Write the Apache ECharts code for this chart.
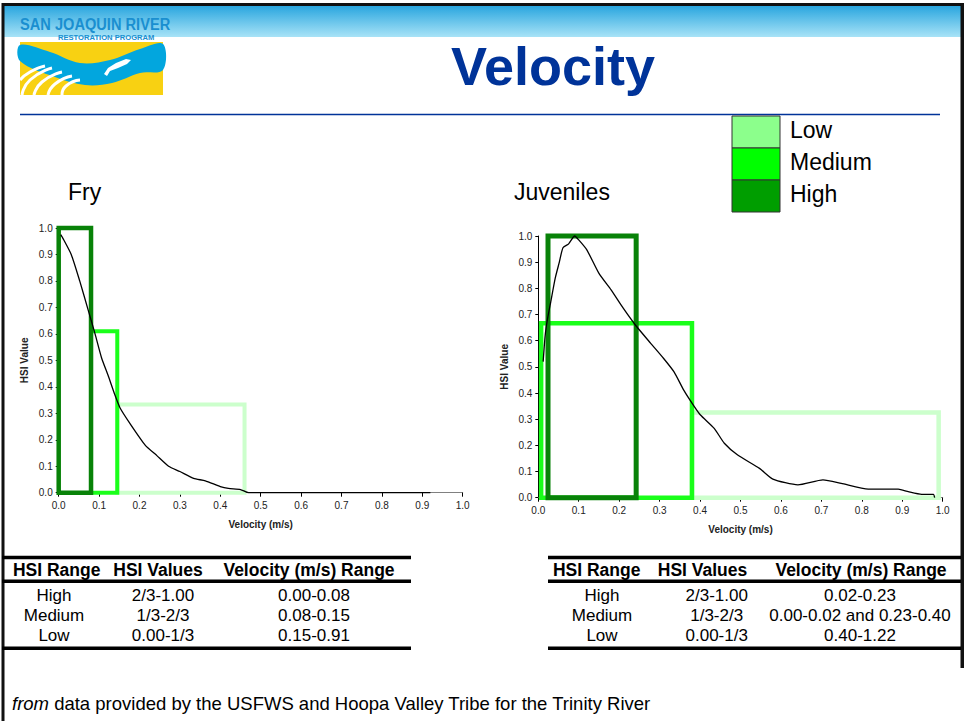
<!DOCTYPE html>
<html><head><meta charset="utf-8">
<script src="https://cdn.jsdelivr.net/npm/echarts/dist/echarts.min.js"></script>
<style>html,body{margin:0;padding:0;background:#fff}#c{width:964px;height:721px}</style>
</head><body><div id="c"></div>
<script>
// ---------- data ----------
const axisTicks = [0, 0.1, 0.2, 0.3, 0.4, 0.5, 0.6, 0.7, 0.8, 0.9, 1.0];

const fryVelocity = [0.005, 0.009, 0.031, 0.052, 0.073, 0.09, 0.106, 0.123, 0.139, 0.152, 0.177, 0.214, 0.243, 0.272, 0.30, 0.334, 0.363, 0.40, 0.42, 0.45, 0.47, 0.92];
const fryHSI      = [0.975, 0.965, 0.90, 0.80, 0.69, 0.60, 0.51, 0.44, 0.37, 0.32, 0.26, 0.18, 0.14, 0.10, 0.08, 0.054, 0.045, 0.023, 0.016, 0.012, 0.0, 0.0];

const juvVelocity = [0.012, 0.017, 0.023, 0.031, 0.042, 0.052, 0.061, 0.075, 0.09, 0.10, 0.12, 0.15, 0.18, 0.21, 0.24, 0.278, 0.31, 0.336, 0.36, 0.385, 0.401, 0.435, 0.46, 0.493, 0.547, 0.58, 0.642, 0.704, 0.749, 0.816, 0.89, 0.915, 0.948, 0.977, 0.98];
const juvHSI      = [0.52, 0.62, 0.685, 0.75, 0.84, 0.90, 0.955, 0.97, 1.0, 0.985, 0.947, 0.857, 0.794, 0.724, 0.66, 0.59, 0.532, 0.48, 0.41, 0.35, 0.316, 0.265, 0.208, 0.163, 0.112, 0.071, 0.049, 0.068, 0.055, 0.033, 0.033, 0.023, 0.013, 0.013, 0.0];

// HSI range boxes: [velocity from, velocity to, HSI top]
const fryHighBox   = [0.0, 0.08, 1.0];
const fryMediumBox = [0.08, 0.145, 0.61];
const fryLowBox    = [0.145, 0.46, 0.333];
const juvHighBox   = [0.024, 0.242, 1.0];
const juvMediumBox = [0.007, 0.38, 0.667];
const juvLowBox    = [0.38, 0.99, 0.326];

const legendNames = ['Low', 'Medium', 'High'];
const tableHeaders = ['HSI Range', 'HSI Values', 'Velocity (m/s) Range'];
const hsiRanges = ['High', 'Medium', 'Low'];
const hsiValues = ['2/3-1.00', '1/3-2/3', '0.00-1/3'];
const fryVelocityRanges = ['0.00-0.08', '0.08-0.15', '0.15-0.91'];
const juvVelocityRanges = ['0.02-0.23', '0.00-0.02 and 0.23-0.40', '0.40-1.22'];

// ---------- styling ----------
const FONT = "'Liberation Sans', Arial, sans-serif";
const C_HIGH = '#088208', C_MED = '#1aff1a', C_LOW = '#ccffcc';
const L_HIGH = '#009e00', L_MED = '#00ff00', L_LOW = '#8cff8c';

function boxPath(b) { return [[b[0], 0], [b[0], b[2]], [b[1], b[2]], [b[1], 0], [b[0], 0]]; }
function zip(xs, ys) { return xs.map((x, i) => [x, ys[i]]); }

function boxSeries(name, b, color, w, idx) {
  return { name, type: 'line', xAxisIndex: idx, yAxisIndex: idx, data: boxPath(b), symbol: 'none',
    clip: false, silent: true, lineStyle: { color, width: w, join: 'miter', cap: 'square' }, z: 3 };
}
function curveSeries(name, xs, ys, idx) {
  return { name, type: 'line', xAxisIndex: idx, yAxisIndex: idx, data: zip(xs, ys), symbol: 'none',
    smooth: 0.2, clip: false, silent: true, lineStyle: { color: '#000', width: 1.3 }, z: 6 };
}

function xAxis(idx) {
  return { gridIndex: idx, type: 'value', min: axisTicks[0], max: axisTicks[axisTicks.length - 1], interval: 0.1,
    axisLine: { show: true, onZero: false, lineStyle: { color: '#808080', width: 1 } },
    axisTick: { show: true, length: 4, lineStyle: { color: '#000' } },
    axisLabel: { fontSize: 10, color: '#222', margin: 8, fontFamily: FONT, formatter: v => v.toFixed(1) },
    splitLine: { show: false },
    name: 'Velocity (m/s)', nameLocation: 'middle', nameGap: 27,
    nameTextStyle: { fontSize: 10, fontWeight: 'bold', color: '#222', fontFamily: FONT } };
}
function yAxis(idx) {
  return { gridIndex: idx, type: 'value', min: axisTicks[0], max: axisTicks[axisTicks.length - 1], interval: 0.1,
    axisLine: { show: true, lineStyle: { color: '#000', width: 1 } },
    axisTick: { show: true, length: 3, lineStyle: { color: '#000' } },
    axisLabel: { fontSize: 10, color: '#222', margin: 6, fontFamily: FONT, formatter: v => v.toFixed(1) },
    splitLine: { show: false },
    name: 'HSI Value', nameLocation: 'middle', nameGap: 29,
    nameTextStyle: { fontSize: 10, fontWeight: 'bold', color: '#222', fontFamily: FONT } };
}

// ---------- graphic (slide decoration, legend, tables) ----------
const g = [];
// header band
g.push({ type: 'rect', shape: { x: 4, y: 5, width: 957, height: 32 }, z: 1,
  style: { fill: new echarts.graphic.LinearGradient(0, 0, 0, 1, [{ offset: 0, color: '#26a4de' }, { offset: 1, color: '#a8e3f7' }]) } });
// borders
g.push({ type: 'rect', shape: { x: 2, y: 3, width: 962, height: 3 }, style: { fill: '#111' }, z: 5 });
g.push({ type: 'rect', shape: { x: 1.5, y: 3, width: 3, height: 718 }, style: { fill: '#111' }, z: 5 });
g.push({ type: 'rect', shape: { x: 960.5, y: 3, width: 3.5, height: 665 }, style: { fill: '#111' }, z: 5 });
// title underline
g.push({ type: 'line', shape: { x1: 20, y1: 114.5, x2: 940, y2: 114.5 }, style: { stroke: '#003399', lineWidth: 1.5 }, z: 2 });

// logo
g.push({ type: 'rect', shape: { x: 20, y: 42, width: 143, height: 53 }, style: { fill: '#f8d112' }, z: 2 });
g.push({ type: 'polygon', z: 3, shape: { smooth: 0.35, points: [[20, 45], [50, 52], [80, 63], [110, 60], [140, 49], [163, 44], [163, 70], [140, 73], [112, 83], [85, 85], [55, 77], [20, 61]] },
  style: { fill: '#02a6de' } });
[[[22, 95], [30, 80], [52, 68]], [[34, 95], [42, 82], [62, 72]], [[48, 95], [55, 84], [72, 76]], [[62, 95], [66, 86], [80, 80]], [[20, 80], [30, 72], [45, 66]]].forEach(p => {
  g.push({ type: 'polyline', z: 4, shape: { points: p, smooth: 0.6 }, style: { stroke: '#fff', lineWidth: 3, fill: null } });
});
g.push({ type: 'polygon', z: 5, shape: { points: [[104, 74], [108, 68], [116, 63], [126, 59], [131, 60], [127, 64], [118, 68], [110, 71], [107, 76]] }, style: { fill: '#fff' } });
g.push({ type: 'text', z: 6, x: 20, y: 16, scaleX: 0.86, style: { text: 'SAN JOAQUIN RIVER', font: "bold 17px " + FONT, fill: '#1a8fd0' } });
g.push({ type: 'text', z: 6, x: 58, y: 33, scaleX: 0.95, style: { text: 'RESTORATION PROGRAM', font: "bold 8px " + FONT, fill: '#1a8fd0' } });

// main title
g.push({ type: 'text', z: 6, x: 553, y: 66, style: { text: 'Velocity', font: "bold 54px " + FONT, fill: '#003399', align: 'center', verticalAlign: 'middle' } });
// chart titles
g.push({ type: 'text', z: 6, x: 68, y: 192, style: { text: 'Fry', font: "23px " + FONT, fill: '#000', verticalAlign: 'middle' } });
g.push({ type: 'text', z: 6, x: 514, y: 192, style: { text: 'Juveniles', font: "23px " + FONT, fill: '#000', verticalAlign: 'middle' } });

// legend
const legendColors = [L_LOW, L_MED, L_HIGH];
legendNames.forEach((n, i) => {
  const y = 116 + i * 32;
  g.push({ type: 'rect', z: 6, shape: { x: 732, y, width: 48, height: 32 }, style: { fill: legendColors[i], stroke: '#333', lineWidth: 1 } });
  g.push({ type: 'text', z: 6, x: 790, y: y + 13.5, style: { text: n, font: "23px " + FONT, fill: '#000', verticalAlign: 'middle' } });
});

// tables
function table(x0, x1, headX, colX, velRanges) {
  [557.5, 581.3, 648.3].forEach(y => g.push({ type: 'rect', z: 6, shape: { x: x0, y: y - 1.8, width: x1 - x0, height: 3.6 }, style: { fill: '#000' } }));
  tableHeaders.forEach((h, i) => g.push({ type: 'text', z: 6, x: headX[i], y: 570, style: { text: h, font: "bold 17.5px " + FONT, fill: '#000', align: 'center', verticalAlign: 'middle' } }));
  const rowY = [595, 615.5, 635.5];
  hsiRanges.forEach((r, i) => {
    const cells = [r, hsiValues[i], velRanges[i]];
    cells.forEach((t, j) => g.push({ type: 'text', z: 6, x: colX[j], y: rowY[i], style: { text: t, font: "17px " + FONT, fill: '#000', align: 'center', verticalAlign: 'middle' } }));
  });
}
table(2, 411, [56.7, 158, 309], [54, 163, 314], fryVelocityRanges);
table(548, 961, [596.7, 702.5, 861], [602, 716.7, 860], juvVelocityRanges);

// footer
g.push({ type: 'text', z: 6, x: 12, y: 703, style: {
  text: '{i|from} data provided by the USFWS and Hoopa Valley Tribe for the Trinity River',
  font: "18.5px " + FONT, fill: '#000', verticalAlign: 'middle',
  rich: { i: { fontStyle: 'italic', fontSize: 18.5, fontFamily: FONT, fill: '#000' } } } });

const chart = echarts.init(document.getElementById('c'), null, { renderer: 'svg' });
chart.setOption({
  backgroundColor: '#fff',
  animation: false,
  grid: [
    { left: 58.7, top: 228, width: 404, height: 264.7 },
    { left: 538.3, top: 236, width: 404.4, height: 261.7 }
  ],
  xAxis: [xAxis(0), xAxis(1)],
  yAxis: [yAxis(0), yAxis(1)],
  series: [
    boxSeries('Fry Low', fryLowBox, C_LOW, 4, 0),
    boxSeries('Fry Medium', fryMediumBox, C_MED, 4, 0),
    boxSeries('Fry High', fryHighBox, C_HIGH, 4.5, 0),
    curveSeries('Fry HSI', fryVelocity, fryHSI, 0),
    boxSeries('Juvenile Low', juvLowBox, C_LOW, 4.5, 1),
    boxSeries('Juvenile Medium', juvMediumBox, C_MED, 4.5, 1),
    boxSeries('Juvenile High', juvHighBox, C_HIGH, 5, 1),
    curveSeries('Juvenile HSI', juvVelocity, juvHSI, 1)
  ],
  graphic: { elements: g }
});
</script></body></html>
